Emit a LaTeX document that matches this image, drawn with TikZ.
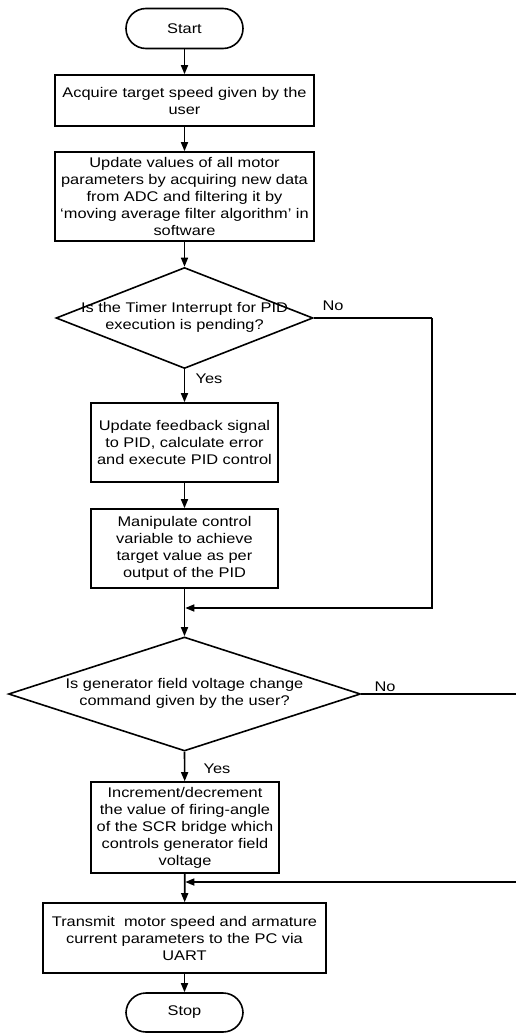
\documentclass[tikz,border=0pt]{standalone}
\usepackage{fontspec}
\setmainfont{Liberation Sans}[FakeStretch=1.17]
\usetikzlibrary{shapes.geometric,arrows.meta}
\begin{document}
\begin{tikzpicture}[x=1pt,y=-1pt,
  every node/.style={font=\fontsize{14}{17}\selectfont},
  procbox/.style={draw,line width=1.6pt,align=center,inner sep=0pt},
  terminal/.style={draw,line width=1.6pt,rounded corners=20pt,inner sep=0pt,
    minimum width=117pt,minimum height=40pt},
  decision/.style={draw,diamond,line width=1.6pt,inner sep=0pt},
  dectext/.style={align=center,inner sep=0pt},
  flow/.style={line width=1.6pt,-{Triangle[length=9pt,width=7pt]}},
  wire/.style={line width=1.6pt},
  lbl/.style={inner sep=0pt}]
\useasboundingbox (0,0) rectangle (516,1033);
\fill[white] (0,0) rectangle (516,1033);

% process steps
\node[terminal] (start) at (184.5,28.5) {Start};
\node[procbox,minimum width=259pt,minimum height=51pt] (acq) at (184.5,100.5)
  {Acquire target speed given by the\\user};
\node[procbox,minimum width=259pt,minimum height=89pt] (upd) at (184.5,196.5)
  {Update values of all motor\\parameters by acquiring new data\\from ADC and filtering it by\\
   `moving average filter algorithm' in\\software};
\node[decision,minimum width=257pt,minimum height=101pt] (d1) at (184.5,318) {};
\node[dectext] at (184.5,317.5) {Is the Timer Interrupt for PID\\execution is pending?};
\node[procbox,minimum width=187pt,minimum height=79pt] (fb) at (184.5,442.5)
  {Update feedback signal\\to PID, calculate error\\and execute PID control};
\node[procbox,minimum width=187pt,minimum height=79pt] (man) at (184.5,548.5)
  {Manipulate control\\variable to achieve\\target value as per\\output of the PID};
\node[decision,minimum width=352pt,minimum height=114pt] (d2) at (184.5,694) {};
\node[dectext] at (184.5,693) {Is generator field voltage change\\command given by the user?};
\node[procbox,minimum width=188pt,minimum height=91pt] (inc) at (185,827.5)
  {Increment/decrement\\the value of firing-angle\\of the SCR bridge which\\controls generator field\\voltage};
\node[procbox,minimum width=283pt,minimum height=70pt] (tx) at (184.5,938)
  {Transmit\ \ motor speed and armature\\current parameters to the PC via\\UART};
\node[terminal,minimum height=39pt] (stop) at (184.5,1012.5) {Stop};

% junction points
\coordinate (m1) at (184.5,608);
\coordinate (m2) at (184.5,882);
\coordinate (r1) at (432,318);
\coordinate (r2) at (532,694);

% connectors
\draw[flow] (start) -- (acq);
\draw[flow] (acq) -- (upd);
\draw[flow] (upd) -- (d1.north);
\draw[flow] (d1.south) -- (fb);
\draw[flow] (fb) -- (man);
\draw[flow] (man) -- (d2.north);
\draw[flow] (d2.south) -- (inc);
\draw[flow] (inc) -- (tx);
\draw[flow] (tx) -- (stop);
\draw[wire] (d1.east) -- (r1);
\draw[flow] (r1) |- ([xshift=0.8pt]m1);
\draw[wire] (d2.east) -- (r2);
\draw[flow] (r2) |- ([xshift=0.8pt]m2);

% branch labels
\node[lbl] at (333,306) {No};
\node[lbl] at (209,379) {Yes};
\node[lbl] at (385,687) {No};
\node[lbl] at (217,769) {Yes};
\end{tikzpicture}
\end{document}
